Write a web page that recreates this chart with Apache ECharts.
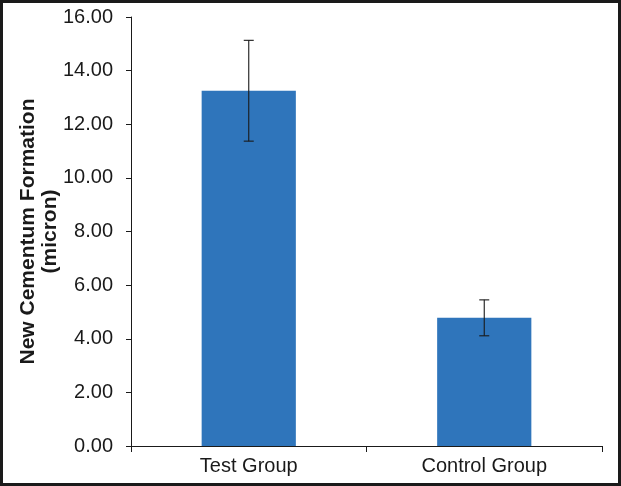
<!DOCTYPE html>
<html>
<head>
<meta charset="utf-8">
<script src="https://cdn.jsdelivr.net/npm/echarts@6/dist/echarts.min.js"></script>
<style>
html,body{margin:0;padding:0;background:#fff;}
#wrap{position:relative;width:621px;height:486px;}
#chart{position:absolute;left:0;top:0;width:621px;height:486px;}
#frame{position:absolute;left:0;top:0;width:621px;height:486px;box-sizing:border-box;border:3px solid #1a1a1a;pointer-events:none;}
</style>
</head>
<body>
<div id="wrap"><div id="chart"></div><div id="frame"></div></div>
<script>
const categories = ["Test Group", "Control Group"];
const means = [13.25, 4.78];
const errors = [1.88, 0.67];
const yTicks = [0, 2, 4, 6, 8, 10, 12, 14, 16];

const chart = echarts.init(document.getElementById('chart'), null, {renderer: 'canvas'});
const errData = categories.map((c, i) => [i, means[i] - errors[i], means[i] + errors[i]]);
const FONT = 'Liberation Sans, Arial, Helvetica, sans-serif';

chart.setOption({
  animation: false,
  backgroundColor: '#fff',
  grid: {left: 131, right: 19, top: 17, bottom: 40, containLabel: false},
  xAxis: {
    type: 'category',
    data: categories,
    axisLine: {lineStyle: {color: '#1a1a1a', width: 1}},
    axisTick: {show: true, length: 6, alignWithLabel: false, lineStyle: {color: '#1a1a1a'}},
    axisLabel: {color: '#1a1a1a', fontSize: 20, fontFamily: FONT, margin: 10}
  },
  yAxis: {
    type: 'value',
    min: yTicks[0],
    max: yTicks[yTicks.length - 1],
    interval: 2,
    name: 'New Cementum Formation\n(micron)',
    nameLocation: 'middle',
    nameRotate: 90,
    nameGap: 70,
    nameMoveOverlap: false,
    nameTextStyle: {color: '#1a1a1a', fontSize: 21, fontWeight: 'bold', fontFamily: FONT, lineHeight: 22},
    axisLine: {show: true, lineStyle: {color: '#1a1a1a', width: 1}},
    axisTick: {show: true, length: 5, lineStyle: {color: '#1a1a1a'}},
    splitLine: {show: false},
    axisLabel: {color: '#1a1a1a', fontSize: 20, fontFamily: FONT, margin: 18,
      formatter: v => v.toFixed(2)}
  },
  series: [
    {
      type: 'bar',
      data: means,
      barWidth: '40%',
      itemStyle: {color: '#2f75bb'}
    },
    {
      type: 'custom',
      data: errData,
      z: 10,
      renderItem: function (params, api) {
        const x = api.value(0);
        const lo = api.coord([x, api.value(1)]);
        const hi = api.coord([x, api.value(2)]);
        const hw = 5;
        const style = {stroke: '#1a1a1a', lineWidth: 1.1};
        return {
          type: 'group',
          children: [
            {type: 'line', shape: {x1: hi[0], y1: hi[1], x2: lo[0], y2: lo[1]}, style: style},
            {type: 'line', shape: {x1: hi[0] - hw, y1: hi[1], x2: hi[0] + hw, y2: hi[1]}, style: style},
            {type: 'line', shape: {x1: lo[0] - hw, y1: lo[1], x2: lo[0] + hw, y2: lo[1]}, style: style}
          ]
        };
      }
    }
  ]
});
</script>
</body>
</html>
